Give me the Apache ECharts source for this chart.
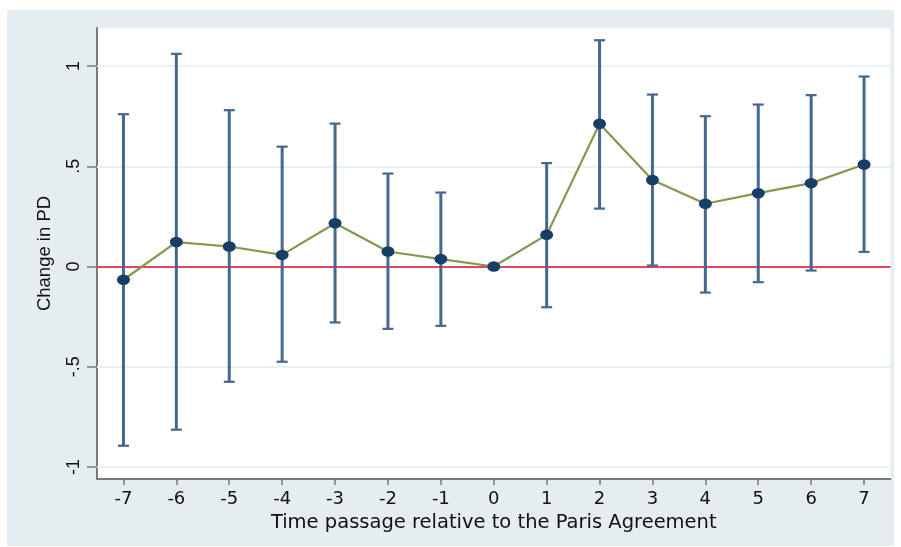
<!DOCTYPE html>
<html>
<head>
<meta charset="utf-8">
<script src="https://cdn.jsdelivr.net/npm/echarts@6/dist/echarts.min.js"></script>
<style>
html,body{margin:0;padding:0;background:#fff;}
#chart{width:901px;height:547px;}
</style>
</head>
<body>
<div id="chart"></div>
<script>
// ---- data ----
const periods = ['-7','-6','-5','-4','-3','-2','-1','0','1','2','3','4','5','6','7'];
const estimates = [-0.066, 0.122, 0.100, 0.058, 0.216, 0.075, 0.037, 0.000, 0.158, 0.712, 0.432, 0.313, 0.366, 0.416, 0.509];
const ciUpper  = [0.760, 1.061, 0.780, 0.598, 0.713, 0.464, 0.369, 0.000, 0.516, 1.129, 0.858, 0.750, 0.808, 0.855, 0.948];
const ciLower  = [-0.894, -0.814, -0.575, -0.475, -0.279, -0.311, -0.296, 0.000, -0.203, 0.289, 0.005, -0.130, -0.078, -0.020, 0.073];
const yTicks = [-1, -0.5, 0, 0.5, 1];
const yTickLabels = ['-1', '-.5', '0', '.5', '1'];
const gridValues = [-1, -0.5, 0.5, 1];
const referenceValue = 0;

const ciData = periods.map((p, i) => [i, ciLower[i], ciUpper[i]]);

const chart = echarts.init(document.getElementById('chart'), null, {renderer: 'canvas'});

const option = {
  backgroundColor: '#ffffff',
  animation: false,
  graphic: [{
    type: 'rect', z: -10, silent: true,
    shape: {x: 7, y: 10, width: 887, height: 536},
    style: {fill: '#e5edf0'}
  }],
  grid: {
    left: 97, top: 28, right: 10.5, bottom: 68,
    show: true, backgroundColor: '#ffffff', borderWidth: 0
  },
  xAxis: {
    type: 'category',
    data: periods,
    boundaryGap: true,
    name: 'Time passage relative to the Paris Agreement',
    nameLocation: 'middle',
    nameGap: 31,
    nameTextStyle: {fontFamily: 'DejaVu Sans', fontSize: 19.5, color: '#111'},
    axisLine: {show: true, onZero: false, lineStyle: {color: '#7a7a7a', width: 2}},
    axisTick: {show: true, alignWithLabel: true, length: 6, lineStyle: {color: '#7a7a7a', width: 1.5}},
    axisLabel: {fontFamily: 'DejaVu Sans', fontSize: 18, color: '#111', margin: 11},
    splitLine: {show: false}
  },
  yAxis: {
    type: 'value',
    min: -1.06,
    max: 1.19,
    name: 'Change in PD',
    nameLocation: 'middle',
    nameRotate: 90,
    nameGap: 43,
    nameTextStyle: {fontFamily: 'Liberation Sans', fontSize: 18.5, color: '#111'},
    axisLine: {show: true, lineStyle: {color: '#7a7a7a', width: 2}},
    axisTick: {show: true, customValues: yTicks, length: 10, lineStyle: {color: '#7a7a7a', width: 1.5}},
    axisLabel: {
      customValues: yTicks,
      rotate: 90,
      margin: 14,
      fontFamily: 'Liberation Sans', fontSize: 18, color: '#111',
      formatter: function (v) {
        const idx = yTicks.findIndex(t => Math.abs(t - v) < 1e-9);
        return idx >= 0 ? yTickLabels[idx] : '';
      }
    },
    splitLine: {show: false}
  },
  series: [
    {
      type: 'custom',
      name: 'CI',
      z: 2,
      silent: true,
      data: ciData,
      encode: {x: 0, y: [1, 2]},
      renderItem: function (params, api) {
        const x = api.value(0);
        const lo = api.coord([x, api.value(1)]);
        const hi = api.coord([x, api.value(2)]);
        if (Math.abs(hi[1] - lo[1]) < 0.5) return null;
        const cap = 5.5;
        const st = {stroke: '#46688f', lineWidth: 3};
        const st2 = {stroke: '#46688f', lineWidth: 2.2};
        return {
          type: 'group',
          children: [
            {type: 'line', shape: {x1: lo[0], y1: lo[1], x2: hi[0], y2: hi[1]}, style: st},
            {type: 'line', shape: {x1: lo[0] - cap, y1: lo[1], x2: lo[0] + cap, y2: lo[1]}, style: st2},
            {type: 'line', shape: {x1: hi[0] - cap, y1: hi[1], x2: hi[0] + cap, y2: hi[1]}, style: st2}
          ]
        };
      }
    },
    {
      type: 'line',
      name: 'Estimate',
      z: 3,
      data: estimates,
      symbol: 'path://M0,5A5,5,0,1,0,10,5A5,5,0,1,0,0,5Z',
      symbolSize: [13, 10.5],
      showSymbol: true,
      itemStyle: {color: '#173f66'},
      lineStyle: {color: '#84984e', width: 2.2},
      markLine: {
        silent: true,
        symbol: 'none',
        label: {show: false},
        z: 1,
        data: gridValues.map(v => ({yAxis: v, lineStyle: {color: '#e9f0f6', width: 2, type: 'solid'}}))
          .concat([{yAxis: referenceValue, lineStyle: {color: '#e3455c', width: 2, type: 'solid'}}])
      }
    }
  ]
};
chart.setOption(option);
</script>
</body>
</html>
